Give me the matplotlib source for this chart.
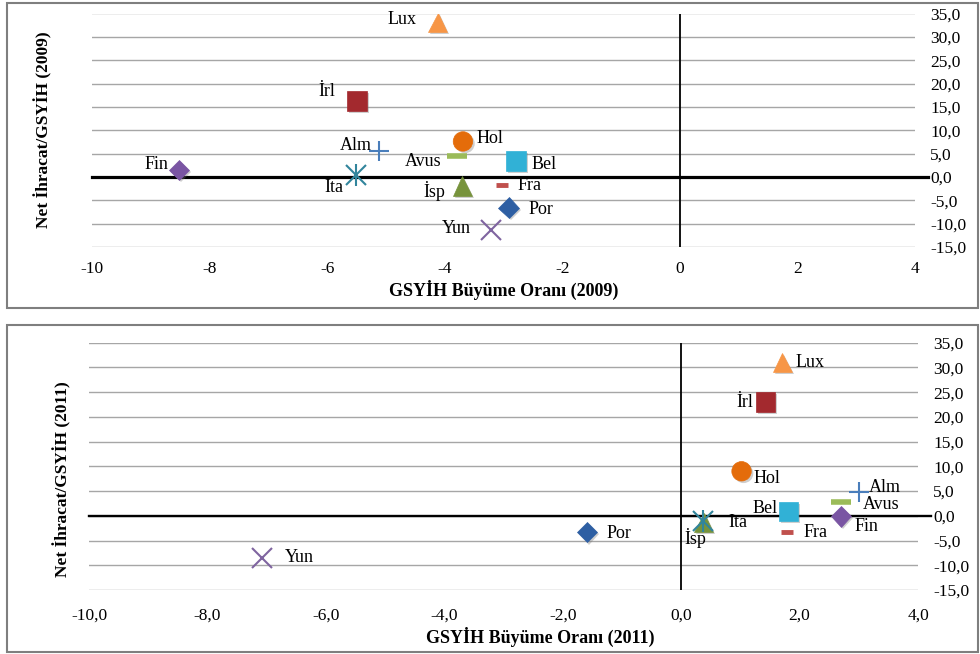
import matplotlib
matplotlib.use("Agg")
import matplotlib.pyplot as plt
import matplotlib.patheffects as pe
from matplotlib.patches import Rectangle
from matplotlib.ticker import FuncFormatter

plt.rcParams['font.family'] = ['Liberation Serif', 'DejaVu Serif']

# data
countries = ['Por', 'İrl', 'İsp', 'Yun', 'Ita', 'Hol', 'Alm', 'Fra', 'Avus', 'Bel', 'Fin', 'Lux']

growth_2009 = [-2.91, -5.49, -3.70, -3.21, -5.51, -3.69, -5.12, -3.03, -3.79, -2.79, -8.52, -4.12]
netexp_2009 = [-6.6, 16.3, -1.9, -11.4, 0.4, 7.6, 5.5, -1.7, 4.4, 3.4, 1.5, 33.1]

growth_2011 = [-1.59, 1.42, 0.38, -7.07, 0.37, 1.02, 3.00, 1.79, 2.70, 1.81, 2.70, 1.71]
netexp_2011 = [-3.3, 23.0, -1.3, -8.5, -1.1, 9.0, 4.9, -3.2, 2.8, 0.9, -0.1, 31.0]

y_ticks = [-15, -10, -5, 0, 5, 10, 15, 20, 25, 30, 35]
x_ticks = [-10, -8, -6, -4, -2, 0, 2, 4]

# marker style per country: (marker, colour, size, edge width)
styles = {
    'Por': ('D', '#2E5FA3', 10.5, 0.5),
    'İrl': ('s', '#A3292E', 14, 0.5),
    'İsp': ('^', '#77933C', 14, 0.5),
    'Yun': ('x', '#7F64A0', 14, 1.5),
    'Ita': ('asterisk', '#31859C', 14, 1.5),
    'Hol': ('o', '#E46C0A', 14, 0.5),
    'Alm': ('+', '#4A7EBB', 14, 1.5),
    'Fra': ('_', '#C0504D', 9, 3.5),
    'Avus': ('_', '#9BBB59', 15, 4),
    'Bel': ('s', '#31B1D6', 14, 0.5),
    'Fin': ('D', '#7A55A3', 10.5, 0.5),
    'Lux': ('^', '#F79646', 14, 0.5),
}

# label offsets in pixels (dx, dy, ha) for each panel
offsets_2009 = {
    'Lux': (-21, 3, 'right'), 'İrl': (-22, 9, 'right'), 'Alm': (-7, 6, 'right'),
    'Hol': (14, 3, 'left'), 'Avus': (-16, -5, 'right'), 'Bel': (16, -3, 'left'),
    'Fin': (-11, 5, 'right'), 'Ita': (-13, -12, 'right'), 'İsp': (-17, -5, 'right'),
    'Fra': (16, -1, 'left'), 'Por': (20, -2, 'left'), 'Yun': (-20, 2, 'right'),
}
offsets_2011 = {
    'Lux': (13, 0, 'left'), 'İrl': (-12, 0, 'right'), 'Hol': (12, -7, 'left'),
    'Alm': (10, 4, 'left'), 'Avus': (22, -3, 'left'), 'Bel': (-11, 3, 'right'),
    'Fin': (13, -10, 'left'), 'Fra': (16, -1, 'left'), 'Ita': (25, -1, 'left'),
    'İsp': (3, -16, 'right'), 'Por': (20, -1, 'left'), 'Yun': (22, 0, 'left'),
}

W, H = 980, 654
fig = plt.figure(figsize=(W / 100, H / 100), dpi=100)

shadow = [pe.SimplePatchShadow(offset=(1.5, -1.5), shadow_rgbFace='#777777', alpha=0.35), pe.Normal()]


def px_axes(left, right, top, bottom):
    return fig.add_axes([left / W, 1 - bottom / H, (right - left) / W, (bottom - top) / H])


def draw_panel(ax, gx, ny, offsets, xfmt, hline_w, xpad):
    ax.set_xlim(-10, 4)
    ax.set_ylim(-15, 35)
    for s in ax.spines.values():
        s.set_visible(False)
    ax.set_yticks(y_ticks)
    ax.set_xticks(x_ticks)
    ax.yaxis.grid(True, color='#A6A6A6', lw=1.0)
    ax.set_axisbelow(True)
    ax.yaxis.tick_right()
    ax.tick_params(axis='y', length=0, pad=11, labelsize=12.5)
    ax.tick_params(axis='x', length=0, pad=xpad, labelsize=12.5)
    ax.yaxis.set_major_formatter(FuncFormatter(lambda v, p: f"{v:.1f}".replace('.', ',')))
    ax.xaxis.set_major_formatter(FuncFormatter(xfmt))

    ax.axhline(0, color='black', lw=hline_w, xmax=1.016, clip_on=False, zorder=2)
    ax.axvline(0, color='black', lw=1.3, zorder=2)

    for name, x, y in zip(countries, gx, ny):
        m, c, ms, mew = styles[name]
        if m == 'asterisk':
            ax.plot([x], [y], 'x', color=c, ms=ms, mew=mew, zorder=3)
            ax.plot([x], [y], '|', color=c, ms=ms * 1.1, mew=mew, zorder=3)
        elif m in ('x', '+', '_'):
            ax.plot([x], [y], m, color=c, ms=ms, mew=mew, zorder=3)
        else:
            ax.plot([x], [y], m, color=c, ms=ms, mec=c, mew=mew, zorder=3,
                    path_effects=shadow)
        dx, dy, ha = offsets[name]
        ax.annotate(name, (x, y), xytext=(dx * 0.72, dy * 0.72), textcoords='offset points',
                    ha=ha, va='center', fontsize=13, zorder=4)


# top panel (2009)
fig.patches.append(Rectangle((7 / W, 1 - 308 / H), 971 / W, 305 / H, transform=fig.transFigure,
                             fill=False, ec='#7F7F7F', lw=1.5))
ax1 = px_axes(92, 915, 13.5, 247)
draw_panel(ax1, growth_2009, netexp_2009, offsets_2009, lambda v, p: f"{v:.0f}", 2.3, 10)
fig.text(504 / W, 1 - 290 / H, 'GSYİH Büyüme Oranı (2009)', ha='center', va='center',
         fontsize=13, fontweight='bold')
fig.text(43 / W, 1 - 130 / H, 'Net İhracat/GSYİH (2009)', ha='center', va='center',
         rotation=90, fontsize=12.5, fontweight='bold')

# bottom panel (2011)
fig.patches.append(Rectangle((7 / W, 1 - 652 / H), 971 / W, 327 / H, transform=fig.transFigure,
                             fill=False, ec='#7F7F7F', lw=1.5))
ax2 = px_axes(89, 918, 342.7, 590)
draw_panel(ax2, growth_2011, netexp_2011, offsets_2011,
           lambda v, p: f"{v:.1f}".replace('.', ','), 1.7, 13)
fig.text(540 / W, 1 - 637 / H, 'GSYİH Büyüme Oranı (2011)', ha='center', va='center',
         fontsize=13, fontweight='bold')
fig.text(62 / W, 1 - 479 / H, 'Net İhracat/GSYİH (2011)', ha='center', va='center',
         rotation=90, fontsize=12.5, fontweight='bold')

fig.savefig('out.png', dpi=100)
